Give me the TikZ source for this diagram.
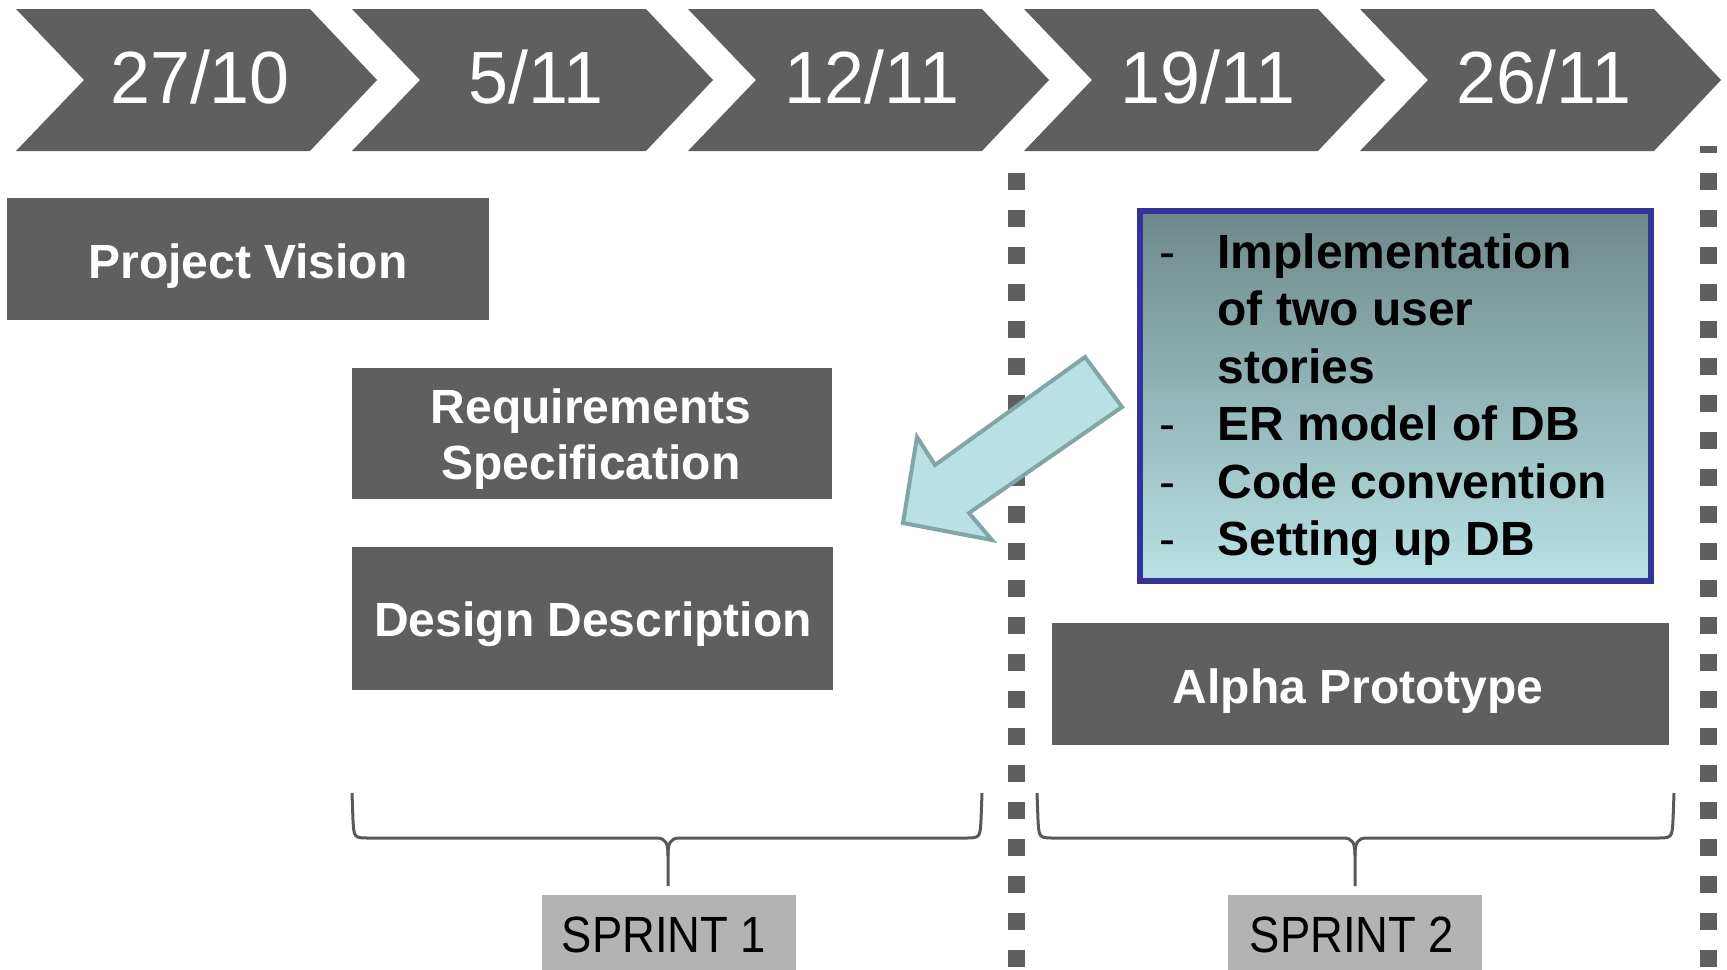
\documentclass[tikz,border=0pt]{standalone}
\usepackage{fontspec}
\setmainfont{Liberation Sans}
\usetikzlibrary{fit}
\definecolor{boxgray}{HTML}{5F5F5F}
\definecolor{sprintgray}{HTML}{B3B3B3}
\definecolor{bracegray}{HTML}{595959}
\definecolor{tealtop}{HTML}{6E8888}
\definecolor{tealbot}{HTML}{B8E2E5}
\definecolor{navy}{HTML}{333399}
\definecolor{arrowfill}{HTML}{B9E1E4}
\definecolor{arrowline}{HTML}{82A5A6}
\newcommand\mychev[3]{%
  \fill[boxgray] (#1,9) -- (#1+294,9) -- (#1+361,80) -- (#1+294,151) -- (#1,151) -- (#1+68,80) -- cycle;
  \node[datetxt] (#2) at (#1+184,103) {\scalebox{0.97}[1]{#3}};
}
\newcommand\mybrace[3]{%
  \draw[bracegray, line width=1.5pt] (#1,793) -- (#1+1,820) .. controls (#1+2,838) .. (#1+18,838)
    -- (#2-12,838) .. controls (#2-2,838) and (#2,843) .. (#2,856) -- (#2,886);
  \draw[bracegray, line width=1.5pt] (#2,856) .. controls (#2,843) and (#2+2,838) .. (#2+12,838)
    -- (#3-18,838) .. controls (#3-2,838) .. (#3-1,820) -- (#3,793);
}
\begin{document}
\begin{tikzpicture}[x=0.5pt,y=-0.5pt,
  darkbox/.style={fill=boxgray, draw=none, inner sep=0pt},
  datetxt/.style={font=\fontsize{37}{40}\selectfont, text=white, anchor=base, inner sep=0pt},
  boldtxt/.style={font=\fontsize{24}{28}\selectfont\bfseries, text=white, anchor=base, inner sep=0pt},
  itemtxt/.style={font=\fontsize{24}{28}\selectfont\bfseries, text=black, anchor=base west, inner sep=0pt},
  dashtxt/.style={font=\fontsize{24}{28}\selectfont, text=black, anchor=base, inner sep=0pt},
  sprintbox/.style={fill=sprintgray, draw=none, inner sep=0pt},
  sprinttxt/.style={font=\fontsize{25.5}{30}\selectfont, text=black, anchor=base, inner sep=0pt},
  dotline/.style={draw=boxgray, line width=8.5pt, dash pattern=on 8.5pt off 10pt},
  notebox/.style={draw=navy, line width=3pt, top color=tealtop, bottom color=tealbot, inner sep=0pt},
  blockarrow/.style={fill=arrowfill, draw=arrowline, line width=2pt, line join=miter},
]
\fill[white] (0,0) rectangle (1727,969);
\useasboundingbox (0,0) rectangle (1727,969);

% timeline chevrons
\mychev{16}{d1}{27/10}
\mychev{352}{d2}{5/11}
\mychev{688}{d3}{12/11}
\mychev{1024}{d4}{19/11}
\mychev{1360}{d5}{26/11}

% sprint separators
\draw[dotline] (1016,173) -- (1016,969);
\draw[dotline, dash phase=5pt] (1708,146) -- (1708,969);

% work packages
\node[darkbox, fit={(7,198) (489,320)}] (pv) {};
\node[boldtxt] (pvt) at (248,278) {Project Vision};

\node[darkbox, fit={(352,368) (832,499)}] (req) {};
\node[boldtxt] (reqt1) at (591,423) {Requirements};
\node[boldtxt] (reqt2) at (591,479) {Specification};

\node[darkbox, fit={(352,547) (833,690)}] (dd) {};
\node[boldtxt] (ddt) at (593,636) {Design Description};

\node[darkbox, fit={(1052,623) (1669,745)}] (ap) {};
\node[boldtxt] (apt) at (1358,703) {Alpha Prototype};

% note box
\node[notebox, fit={(1140,211) (1651,581)}] (note) {};
\node[dashtxt] (b1) at (1167,268) {-};
\node[dashtxt] (b2) at (1167,440) {-};
\node[dashtxt] (b3) at (1167,498) {-};
\node[dashtxt] (b4) at (1167,555) {-};
\node[itemtxt] (n1) at (1217,268) {Implementation};
\node[itemtxt] (n2) at (1217,325) {of two user};
\node[itemtxt] (n3) at (1217,383) {stories};
\node[itemtxt] (n4) at (1217,440) {ER model of DB};
\node[itemtxt] (n5) at (1217,498) {Code convention};
\node[itemtxt] (n6) at (1217,555) {Setting up DB};

% block arrow
\draw[blockarrow] (1085,357) -- (1122,407) -- (969,513) -- (992,540) -- (903,523) -- (917,437) -- (935,465) -- cycle;

% braces
\mybrace{352}{668}{982}
\mybrace{1037}{1355}{1674}

% sprint labels
\node[sprintbox, fit={(542,895) (796,975)}] (s1) {};
\node[sprinttxt] (s1t) at (664,952) {\scalebox{0.89}[1]{SPRINT 1}};
\node[sprintbox, fit={(1228,895) (1482,975)}] (s2) {};
\node[sprinttxt] (s2t) at (1352,952) {\scalebox{0.89}[1]{SPRINT 2}};
\end{tikzpicture}
\end{document}
